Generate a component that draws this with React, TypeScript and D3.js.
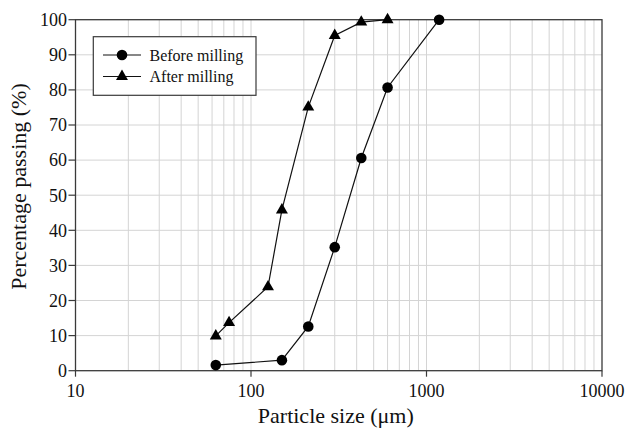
import React from "react";
import * as d3 from "d3";

const sizesBefore = [63, 150, 212, 300, 425, 600, 1180];
const passingBefore = [1.6, 3.0, 12.6, 35.2, 60.6, 80.7, 100];
const sizesAfter = [63, 75, 125, 150, 212, 300, 425, 600];
const passingAfter = [9.9, 13.7, 23.9, 45.8, 75.1, 95.5, 99.3, 100];
const xTicks = [10, 100, 1000, 10000];
const yTicks = [0, 10, 20, 30, 40, 50, 60, 70, 80, 90, 100];

const W = 628;
const H = 429;
const m = { left: 75.5, right: 602, top: 19.7, bottom: 370.7 };
const FONT = "Liberation Serif";

export default function App() {
  const x = d3.scaleLog().domain([10, 10000]).range([m.left, m.right]);
  const y = d3.scaleLinear().domain([0, 100]).range([m.bottom, m.top]);

  const minorX: number[] = [];
  for (let dec = 10; dec < 10000; dec *= 10) {
    for (let k = 2; k <= 9; k++) minorX.push(dec * k);
  }

  const line = d3
    .line<[number, number]>()
    .x((d) => x(d[0]))
    .y((d) => y(d[1]));

  const before: [number, number][] = sizesBefore.map((s, i) => [s, passingBefore[i]]);
  const after: [number, number][] = sizesAfter.map((s, i) => [s, passingAfter[i]]);

  const tri = d3.symbol().type(d3.symbolTriangle).size(62)() as string;

  const axisColor = "#3a3a3a";
  const gridColor = "#d4d4d4";

  return (
    <svg width={W} height={H} style={{ position: "absolute", left: 0, top: 0, background: "#fff" }}>
      {/* gridlines */}
      {minorX.concat([100, 1000]).map((v) => (
        <line key={"gx" + v} x1={x(v)} x2={x(v)} y1={m.top} y2={m.bottom} stroke={gridColor} strokeWidth={1} />
      ))}
      {yTicks.slice(1, -1).map((v) => (
        <line key={"gy" + v} x1={m.left} x2={m.right} y1={y(v)} y2={y(v)} stroke={gridColor} strokeWidth={1} />
      ))}

      {/* frame */}
      <rect
        x={m.left}
        y={m.top}
        width={m.right - m.left}
        height={m.bottom - m.top}
        fill="none"
        stroke={axisColor}
        strokeWidth={1.3}
      />

      {/* y ticks */}
      {yTicks.map((v) => (
        <g key={"yt" + v}>
          <line x1={m.left - 7} x2={m.left} y1={y(v)} y2={y(v)} stroke={axisColor} strokeWidth={1.2} />
          <text x={m.left - 8.5} y={y(v)} dy="0.35em" textAnchor="end" fontFamily={FONT} fontSize={18} fill="#111">
            {v}
          </text>
        </g>
      ))}

      {/* x ticks */}
      {xTicks.map((v) => (
        <g key={"xt" + v}>
          <line x1={x(v)} x2={x(v)} y1={m.bottom} y2={m.bottom + 6} stroke={axisColor} strokeWidth={1.2} />
          <text x={x(v)} y={m.bottom + 26} textAnchor="middle" fontFamily={FONT} fontSize={18} fill="#111">
            {v}
          </text>
        </g>
      ))}

      {/* axis titles */}
      <text x={335.8} y={423} textAnchor="middle" fontFamily={FONT} fontSize={22} fill="#111">
        Particle size (μm)
      </text>
      <text
        transform="translate(25.5, 186.5) rotate(-90)"
        textAnchor="middle"
        fontFamily={FONT}
        fontSize={22}
        fill="#111"
      >
        Percentage passing (%)
      </text>

      {/* series */}
      <path d={line(before) as string} fill="none" stroke="#111" strokeWidth={1.2} />
      <path d={line(after) as string} fill="none" stroke="#111" strokeWidth={1.2} />
      {before.map((d, i) => (
        <circle key={"b" + i} cx={x(d[0])} cy={y(d[1])} r={5.3} fill="#000" />
      ))}
      {after.map((d, i) => (
        <path key={"a" + i} d={tri} transform={`translate(${x(d[0])},${y(d[1])})`} fill="#000" />
      ))}

      {/* legend */}
      <g>
        <rect x={93.3} y={36.7} width={162.7} height={58.6} fill="#fff" stroke={axisColor} strokeWidth={1.2} />
        <line x1={103} x2={141} y1={55} y2={55} stroke="#111" strokeWidth={1.2} />
        <circle cx={122} cy={55} r={5.3} fill="#000" />
        <text x={149.5} y={55} dy="0.35em" fontFamily={FONT} fontSize={16} fill="#111">
          Before milling
        </text>
        <line x1={103} x2={141} y1={76.5} y2={76.5} stroke="#111" strokeWidth={1.2} />
        <path d={tri} transform="translate(122,76.5)" fill="#000" />
        <text x={149.5} y={76.5} dy="0.35em" fontFamily={FONT} fontSize={16} fill="#111">
          After milling
        </text>
      </g>
    </svg>
  );
}
